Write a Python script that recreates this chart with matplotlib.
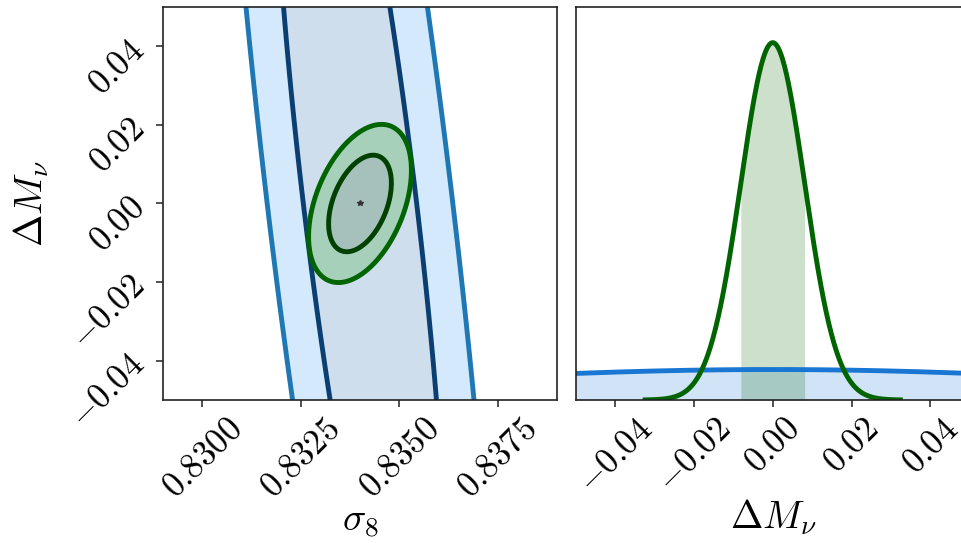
import numpy as np
import matplotlib
matplotlib.use("Agg")
import matplotlib.pyplot as plt
from matplotlib.ticker import FuncFormatter, FixedLocator

plt.rcParams['mathtext.fontset'] = 'cm'
plt.rcParams['font.family'] = ['DejaVu Serif']

# fiducial cosmology (sigma_8, Delta M_nu)
fiducial = [0.834, 0.0]
param_labels = [r'$\sigma_8$', r'$\Delta M_\nu$']

# Fisher constraints: marginal errors and correlation coefficient
wide_sigma = [0.00147, 0.095]
wide_rho = -0.764
tight_sigma = [0.000525, 0.0081]
tight_rho = 0.42

# 68% / 95% two-parameter Delta chi^2 levels
dchi2_levels = [2.30, 6.17]

sigma8_range = [0.829, 0.839]
dmnu_range = [-0.05, 0.05]
sigma8_ticks = [0.8300, 0.8325, 0.8350, 0.8375]
dmnu_ticks = [-0.04, -0.02, 0.00, 0.02, 0.04]

# colours
wide_fill = ['#cedeed', '#d4eafc']
wide_line = ['#0b3f72', '#1f77b4']
tight_fill = ['#a6c1bc', '#a7d0bb']
tight_line = ['#004000', '#006400']
wide_1d = '#1976d2'
tight_1d = '#006400'


def covariance(sig, rho):
    return np.array([[sig[0] ** 2, rho * sig[0] * sig[1]],
                     [rho * sig[0] * sig[1], sig[1] ** 2]])


def delta_chi2(X, Y, cov):
    inv = np.linalg.inv(cov)
    dx = X - fiducial[0]
    dy = Y - fiducial[1]
    return inv[0, 0] * dx * dx + 2 * inv[0, 1] * dx * dy + inv[1, 1] * dy * dy


def tex_fmt(decimals):
    return FuncFormatter(lambda v, p: r'$%s$' % (('%.' + str(decimals) + 'f') % v))


fig = plt.figure(figsize=(9.61, 5.43), dpi=100)
ax1 = fig.add_axes([0.1696, 0.2634, 0.41, 0.7238])
ax2 = fig.add_axes([0.5991, 0.2634, 0.41, 0.7238])

# --- 2D panel -------------------------------------------------------------
xs = np.linspace(sigma8_range[0], sigma8_range[1], 700)
ys = np.linspace(dmnu_range[0], dmnu_range[1], 700)
X, Y = np.meshgrid(xs, ys)

for sig, rho, fills, lines in [(wide_sigma, wide_rho, wide_fill, wide_line),
                               (tight_sigma, tight_rho, tight_fill, tight_line)]:
    chi2 = delta_chi2(X, Y, covariance(sig, rho))
    ax1.contourf(X, Y, chi2, levels=[0] + dchi2_levels, colors=fills)
    ax1.contour(X, Y, chi2, levels=dchi2_levels, colors=lines, linewidths=3.5)

ax1.plot(fiducial[0], fiducial[1], marker='*', color='#333333', markersize=4, linestyle='none')

ax1.set_xlim(sigma8_range)
ax1.set_ylim(dmnu_range)
ax1.xaxis.set_major_locator(FixedLocator(sigma8_ticks))
ax1.yaxis.set_major_locator(FixedLocator(dmnu_ticks))
ax1.xaxis.set_major_formatter(tex_fmt(4))
ax1.yaxis.set_major_formatter(tex_fmt(2))
ax1.set_xlabel(param_labels[0], fontsize=28, labelpad=-1)
ax1.set_ylabel(param_labels[1], fontsize=28, labelpad=9)

# --- 1D panel -------------------------------------------------------------
def gauss(x, mu, s):
    return np.exp(-0.5 * ((x - mu) / s) ** 2) / (s * np.sqrt(2 * np.pi))

xw = np.linspace(-0.06, 0.06, 600)
pw = gauss(xw, fiducial[1], wide_sigma[1])
ax2.fill_between(xw, 0, pw, color=wide_1d, alpha=0.2, linewidth=0)

s = tight_sigma[1]
xb = np.linspace(fiducial[1] - s, fiducial[1] + s, 200)
ax2.fill_between(xb, 0, gauss(xb, fiducial[1], s), color=tight_1d, alpha=0.2, linewidth=0)

ax2.plot(xw, pw, color=wide_1d, linewidth=3.5)

xt = np.linspace(fiducial[1] - 4 * s, fiducial[1] + 4 * s, 400)
pt = gauss(xt, fiducial[1], s)
ax2.plot(xt, pt, color=tight_1d, linewidth=3.5)

ax2.set_xlim(dmnu_range)
ax2.set_ylim(0, 1.1 * pt.max())
ax2.set_yticks([])
ax2.xaxis.set_major_locator(FixedLocator(dmnu_ticks))
ax2.xaxis.set_major_formatter(tex_fmt(2))
ax2.set_xlabel(param_labels[1], fontsize=28, labelpad=-1)

for ax in (ax1, ax2):
    ax.tick_params(axis='both', labelsize=25, rotation=45, length=5, width=1.1,
                   direction='out', color='#222222')
    for sp in ax.spines.values():
        sp.set_linewidth(1.2)
        sp.set_color('#222222')

fig.savefig('out.png', dpi=100)
